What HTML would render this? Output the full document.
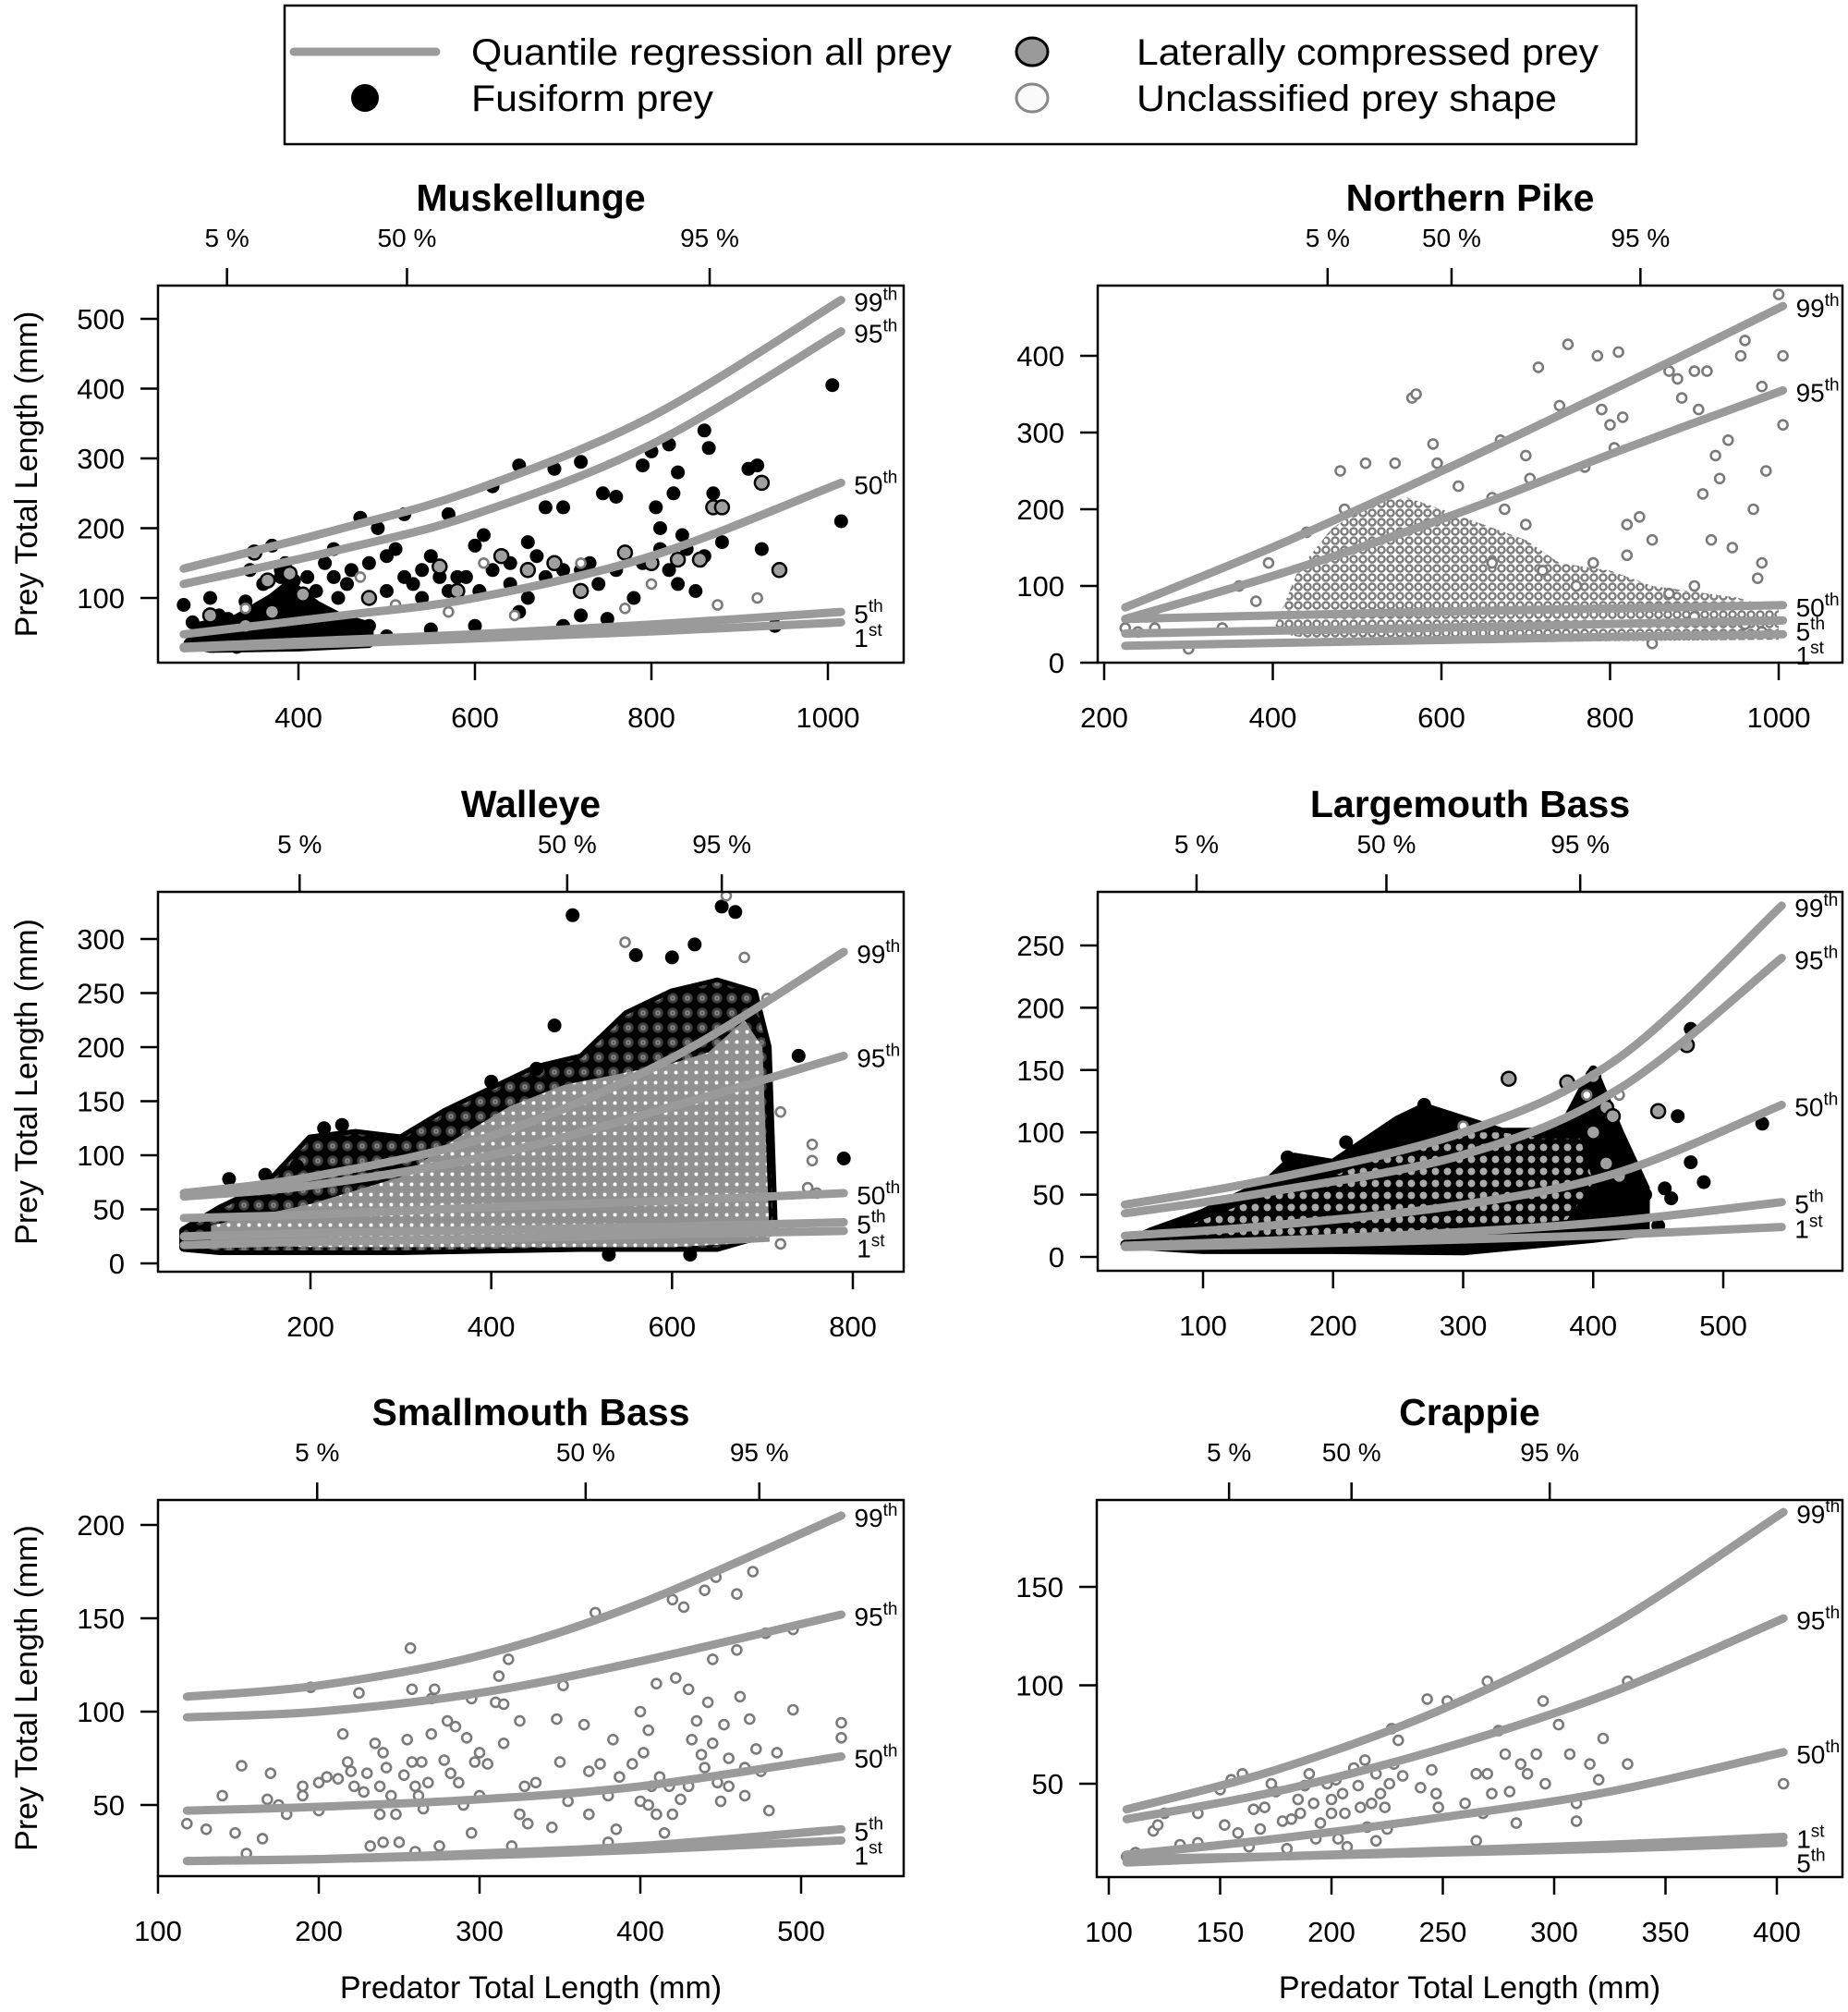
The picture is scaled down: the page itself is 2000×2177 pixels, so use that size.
<!DOCTYPE html>
<html><head><meta charset="utf-8"><style>
html,body{margin:0;padding:0;background:#fff}
svg{display:block}
text{font-family:"Liberation Sans",Arial,sans-serif;fill:#000}
</style></head><body>
<svg id="chart" xmlns="http://www.w3.org/2000/svg" width="2000" height="2177" viewBox="0 0 2000 2177">
<defs>
<pattern id="ringsDense" width="11" height="11" patternUnits="userSpaceOnUse"><rect width="11" height="11" fill="#909090"/><circle cx="5.5" cy="5.5" r="2" fill="#fff"/></pattern>
<pattern id="ringsSparse" width="10" height="10" patternUnits="userSpaceOnUse"><rect width="10" height="10" fill="#fff"/><circle cx="5" cy="5" r="3.6" fill="#fff" stroke="#7a7a7a" stroke-width="2.4"/></pattern>
<pattern id="grayDots" width="13" height="13" patternUnits="userSpaceOnUse"><rect width="13" height="13" fill="#000"/><circle cx="6.5" cy="6.5" r="5" fill="#aaa" stroke="#000" stroke-width="2"/></pattern>
<pattern id="blackRings" width="16" height="16" patternUnits="userSpaceOnUse"><rect width="16" height="16" fill="#000"/><circle cx="8" cy="8" r="4.5" fill="#fff" stroke="#888" stroke-width="2.4"/></pattern>
</defs>
<g>
<rect x="308" y="6" width="1463" height="150" fill="#fff" stroke="#000" stroke-width="2.5"/>
<line x1="318" y1="56" x2="472" y2="56" stroke="#9a9a9a" stroke-width="9" stroke-linecap="round"/>
<text x="510" y="70" font-size="40" textLength="520" lengthAdjust="spacingAndGlyphs">Quantile regression all prey</text>
<circle cx="395" cy="106" r="15" fill="#000"/>
<text x="510" y="120" font-size="40" textLength="262" lengthAdjust="spacingAndGlyphs">Fusiform prey</text>
<ellipse cx="1117" cy="56" rx="17" ry="15" fill="#9a9a9a" stroke="#000" stroke-width="3"/>
<text x="1230" y="70" font-size="40" textLength="500" lengthAdjust="spacingAndGlyphs">Laterally compressed prey</text>
<ellipse cx="1117" cy="106" rx="17" ry="15" fill="#fafafa" stroke="#888" stroke-width="3"/>
<text x="1230" y="120" font-size="40" textLength="455" lengthAdjust="spacingAndGlyphs">Unclassified prey shape</text>
</g>
</svg>
<script>
// ---------- DATA ----------
const quantileNames = ["99","95","50","5","1"];
const quantileSuffix = ["th","th","th","th","st"];

// Muskellunge
const muskCurveX = [270,450,600,800,1015];
const muskQ99 = [142,200,255,360,527];
const muskQ95 = [120,170,220,320,482];
const muskQ50 = [48,75,100,160,265];
const muskQ5 = [30,40,48,62,80];
const muskQ1 = [28,35,42,52,65];
const muskXTicks = [400,600,800,1000];
const muskYTicks = [100,200,300,400,500];
const muskPct = [319,523,866];
const muskCloud = [[275,35],[290,60],[330,70],[370,100],[390,120],[420,90],[450,70],[480,60],[480,35],[400,30],[300,28]];
const muskFusiform = [[270,90],[280,65],[290,50],[300,100],[310,75],[320,45],[330,60],[340,95],[345,140],[350,55],[360,120],[365,80],[370,175],[375,100],[380,130],[385,150],[390,90],[395,110],[400,70],[405,60],[410,130],[420,80],[430,150],[440,170],[445,100],[460,140],[470,215],[480,150],[490,200],[500,160],[510,170],[520,220],[530,120],[540,100],[550,160],[560,130],[570,220],[580,130],[600,175],[605,110],[610,190],[620,260],[640,150],[650,290],[660,180],[670,160],[680,230],[690,285],[700,230],[720,295],[730,150],[745,250],[760,245],[780,100],[790,290],[800,310],[805,230],[810,200],[820,320],[825,250],[830,280],[835,190],[840,170],[860,340],[865,315],[870,250],[880,180],[910,285],[920,290],[925,170],[940,60],[1005,405],[1015,210],[700,60],[750,70],[600,60],[500,45],[450,40],[420,35],[380,40],[340,35],[300,40],[320,70],[360,60],[400,50],[430,55],[480,60],[550,55],[650,80],[720,75],[760,55],[300,55],[290,35],[330,30],[370,45],[410,45],[380,140],[395,125],[420,110],[440,130],[455,120],[500,110],[520,130],[540,140],[570,110],[590,130],[620,140],[640,120],[660,100],[680,130],[700,140],[720,140],[740,120],[760,140],[790,150],[810,170],[820,140],[830,120],[850,110],[860,160]];
const muskLateral = [[350,165],[365,125],[390,135],[405,105],[480,100],[560,145],[580,110],[630,160],[660,140],[690,150],[720,110],[770,165],[800,150],[830,155],[855,155],[870,230],[880,230],[925,265],[945,140],[370,80],[300,75],[340,60]];
const muskUnclass = [[340,85],[470,130],[510,90],[570,80],[610,150],[645,75],[720,150],[770,85],[800,120],[875,90],[920,100]];

// Northern Pike
const pikeCurveX = [225,420,620,820,1005];
const pikeQ99 = [72,160,260,365,465];
const pikeQ95 = [57,120,195,280,355];
const pikeQ50 = [57,62,67,71,75];
const pikeQ5 = [38,42,46,51,55];
const pikeQ1 = [22,26,30,34,37];
const pikeXTicks = [200,400,600,800,1000];
const pikeYTicks = [0,100,200,300,400];
const pikePct = [465,612,836];
const pikeCloud = [[400,40],[430,120],[470,175],[520,210],[560,215],[600,200],[650,180],[700,160],[740,130],[800,120],[850,100],[950,85],[1000,70],[1000,30],[800,28],[600,25],[450,30]];
const pikeUnclass = [[225,45],[240,40],[260,45],[300,18],[340,45],[360,100],[380,80],[395,130],[440,170],[480,250],[485,200],[510,260],[545,260],[565,345],[570,350],[590,285],[595,260],[620,230],[660,215],[670,290],[675,200],[700,270],[705,240],[715,385],[740,335],[750,415],[770,255],[785,400],[790,330],[800,310],[805,280],[810,405],[815,320],[820,180],[835,190],[850,160],[870,380],[880,370],[885,345],[900,380],[905,330],[910,220],[915,380],[920,160],[925,270],[930,240],[940,290],[945,150],[955,400],[960,420],[970,200],[975,110],[980,360],[985,250],[1000,480],[1005,400],[1005,310],[980,130],[870,90],[900,100],[660,130],[700,180],[720,120],[760,100],[780,130],[820,140],[900,60],[960,50],[980,40],[850,25]];

// Walleye
const walCurveX = [60,200,400,600,790];
const walQ99 = [65,80,118,190,288];
const walQ95 = [62,72,100,145,192];
const walQ50 = [42,45,52,58,65];
const walQ5 = [25,28,31,34,38];
const walQ1 = [17,20,23,27,30];
const walXTicks = [200,400,600,800];
const walYTicks = [0,50,100,150,200,250,300];
const walPct = [188,484,655];
const walBlackCloud = [[60,30],[100,50],[150,70],[200,115],[250,120],[300,115],[350,140],[400,160],[450,180],[500,190],[550,230],[600,250],[650,260],[690,250],[705,200],[712,30],[650,15],[500,15],[300,12],[100,12],[60,15]];
const walGrayCloud = [[90,35],[200,55],[300,80],[360,115],[420,145],[480,165],[540,175],[600,185],[640,195],[680,225],[700,200],[708,20],[600,15],[400,15],[200,15],[90,18]];
const walFusiform = [[490,322],[655,330],[670,325],[625,295],[560,285],[600,283],[740,192],[790,97],[530,8],[620,8],[470,220],[450,180],[400,168],[215,125],[235,128],[185,90],[150,82],[110,78]];
const walUnclass = [[548,297],[680,283],[705,245],[720,140],[755,110],[755,95],[760,65],[750,70],[720,18],[660,340]];

// Largemouth Bass
const lmbCurveX = [40,150,300,420,545];
const lmbQ99 = [42,62,100,160,282];
const lmbQ95 = [35,52,82,135,240];
const lmbQ50 = [17,25,42,68,122];
const lmbQ5 = [9,13,20,29,44];
const lmbQ1 = [8,10,14,18,24];
const lmbXTicks = [100,200,300,400,500];
const lmbYTicks = [0,50,100,150,200,250];
const lmbPct = [95,241,390];
const lmbBlackCloud = [[40,10],[60,20],[100,35],[150,60],[170,80],[200,75],[250,110],[270,120],[300,110],[330,100],[360,100],[380,110],[400,150],[420,100],[440,55],[440,20],[400,15],[300,5],[200,6],[100,6],[40,10]];
const lmbGrayCloud = [[60,15],[100,30],[150,50],[200,65],[250,85],[300,100],[330,100],[360,95],[390,95],[400,60],[380,30],[300,20],[200,12],[100,10]];
const lmbFusiform = [[210,92],[165,80],[270,122],[455,55],[460,47],[465,113],[475,76],[485,60],[530,107],[475,183],[450,25],[440,50]];
const lmbLateral = [[335,143],[380,140],[400,145],[410,120],[415,113],[450,117],[472,170],[400,100],[410,75],[420,65]];
const lmbUnclass = [[395,130],[420,130],[300,105]];

// Smallmouth Bass
const smbCurveX = [118,200,300,400,525];
const smbQ99 = [108,114,130,158,205];
const smbQ95 = [97,100,110,127,152];
const smbQ50 = [47,49,53,60,76];
const smbQ5 = [20,21,24,28,37];
const smbQ1 = [20,21,23,26,31];
const smbXTicks = [100,200,300,400,500];
const smbYTicks = [50,100,150,200];
const smbPct = [199,366,474];
const smbUnclass = [[118,40],[130,37],[140,55],[148,35],[152,71],[155,24],[165,32],[168,53],[170,67],[175,50],[180,45],[190,60],[190,55],[195,113],[200,47],[200,62],[205,65],[212,64],[215,88],[218,73],[220,68],[222,60],[225,110],[228,57],[230,67],[232,28],[235,83],[238,60],[238,45],[240,78],[242,70],[245,55],[248,45],[250,30],[253,66],[255,85],[257,134],[258,112],[258,73],[260,60],[262,55],[264,73],[265,48],[268,62],[270,107],[270,88],[272,112],[275,28],[278,74],[280,95],[282,67],[285,92],[287,62],[290,50],[292,86],[295,35],[295,107],[297,73],[300,78],[300,55],[305,72],[310,105],[312,119],[315,104],[315,83],[318,128],[325,95],[325,45],[328,60],[330,40],[335,62],[345,38],[348,96],[350,73],[352,114],[355,52],[365,93],[368,68],[368,45],[372,153],[375,72],[380,55],[383,85],[385,37],[387,65],[395,72],[400,52],[400,100],[402,78],[405,90],[407,60],[410,45],[410,115],[412,65],[415,35],[418,60],[420,160],[422,118],[425,53],[427,156],[430,112],[432,85],[435,95],[438,77],[440,165],[442,105],[445,128],[445,83],[447,172],[448,62],[450,52],[452,93],[455,75],[460,163],[460,133],[462,108],[465,55],[468,96],[470,175],[472,80],[475,68],[478,142],[480,47],[485,78],[495,144],[495,101],[525,94],[525,86],[440,70],[430,60],[455,60],[465,70],[420,45],[405,50],[380,30],[320,28],[260,25],[240,30]];

// Crappie
const crpCurveX = [108,175,250,325,403];
const crpQ99 = [37,57,88,130,188];
const crpQ95 = [32,46,68,96,134];
const crpQ50 = [14,22,33,46,66];
const crpQ5 = [12,13,15,17,20];
const crpQ1 = [10,13,16,19,23];
const crpXTicks = [100,150,200,250,300,350,400];
const crpYTicks = [50,100,150];
const crpPct = [154,209,298];
const crpUnclass = [[108,13],[112,15],[120,26],[122,29],[125,35],[132,19],[140,35],[140,20],[150,47],[152,29],[155,52],[158,25],[160,55],[163,18],[165,37],[168,27],[170,38],[173,50],[175,46],[178,31],[180,17],[182,32],[185,42],[186,35],[188,49],[190,55],[192,40],[193,22],[195,30],[198,50],[200,42],[200,35],[202,52],[203,22],[205,45],[206,35],[207,18],[210,58],[212,49],[213,38],[215,62],[216,28],[218,40],[220,55],[220,21],[222,45],[224,38],[225,27],[226,50],[227,78],[228,60],[230,72],[232,54],[240,48],[243,93],[245,57],[247,45],[248,38],[252,92],[260,40],[265,55],[265,21],[268,35],[270,102],[270,55],[272,45],[275,77],[278,65],[280,46],[283,30],[285,60],[288,55],[292,65],[295,92],[296,50],[302,80],[307,65],[310,40],[310,31],[316,60],[320,52],[322,73],[333,60],[333,102],[403,50]];

// ---------- LAYOUT (not data) ----------
const SVGNS = "http://www.w3.org/2000/svg";
const svg = document.getElementById("chart");
function mk(tag, attrs, parent){const e=document.createElementNS(SVGNS,tag);for(const k in attrs)e.setAttribute(k,attrs[k]);(parent||svg).appendChild(e);return e;}

const panels = [
 {key:"muskellunge",title:"Muskellunge",L:171,R:978,T:309,B:717,xa:[400,323,1000,896],ya:[100,647,500,345],
  cx:muskCurveX,q:[muskQ99,muskQ95,muskQ50,muskQ5,muskQ1],xt:muskXTicks,yt:muskYTicks,pct:muskPct,
  clouds:[[muskCloud,"#000"]],fus:muskFusiform,lat:muskLateral,unc:muskUnclass,ylab:true,xlab:false},
 {key:"northern-pike",title:"Northern Pike",L:1188,R:1994,T:309,B:717,xa:[200,1195,1000,1925],ya:[0,717,400,385],
  cx:pikeCurveX,q:[pikeQ99,pikeQ95,pikeQ50,pikeQ5,pikeQ1],xt:pikeXTicks,yt:pikeYTicks,pct:pikePct,
  clouds:[[pikeCloud,"url(#ringsSparse)"]],fus:[],lat:[],unc:pikeUnclass,ylab:false,xlab:false},
 {key:"walleye",title:"Walleye",L:171,R:978,T:965,B:1376,xa:[200,336,800,923],ya:[0,1367,300,1016],
  cx:walCurveX,q:[walQ99,walQ95,walQ50,walQ5,walQ1],xt:walXTicks,yt:walYTicks,pct:walPct,
  clouds:[[walBlackCloud,"#000"],[walBlackCloud,"url(#blackRings)",0.45],[walGrayCloud,"url(#ringsDense)"]],fus:walFusiform,lat:[],unc:walUnclass,ylab:true,xlab:false},
 {key:"largemouth-bass",title:"Largemouth Bass",L:1188,R:1994,T:965,B:1375,xa:[100,1302,500,1865],ya:[0,1360,250,1023],
  cx:lmbCurveX,q:[lmbQ99,lmbQ95,lmbQ50,lmbQ5,lmbQ1],xt:lmbXTicks,yt:lmbYTicks,pct:lmbPct,
  clouds:[[lmbBlackCloud,"#000"],[lmbGrayCloud,"url(#grayDots)"]],fus:lmbFusiform,lat:lmbLateral,unc:lmbUnclass,ylab:false,xlab:false},
 {key:"smallmouth-bass",title:"Smallmouth Bass",L:171,R:978,T:1623,B:2030,xa:[100,171,500,867],ya:[50,1953,200,1650],
  cx:smbCurveX,q:[smbQ99,smbQ95,smbQ50,smbQ5,smbQ1],xt:smbXTicks,yt:smbYTicks,pct:smbPct,
  clouds:[],fus:[],lat:[],unc:smbUnclass,ylab:true,xlab:true},
 {key:"crappie",title:"Crappie",L:1187,R:1994,T:1623,B:2031,xa:[100,1200,400,1923],ya:[50,1930,150,1717],
  cx:crpCurveX,q:[crpQ99,crpQ95,crpQ50,crpQ5,crpQ1],xt:crpXTicks,yt:crpYTicks,pct:crpPct,
  clouds:[],fus:[],lat:[],unc:crpUnclass,ylab:false,xlab:true}
];

function smoothPath(pts){
  let d="M"+pts[0][0].toFixed(1)+","+pts[0][1].toFixed(1);
  for(let i=0;i<pts.length-1;i++){
    const p0=pts[Math.max(i-1,0)],p1=pts[i],p2=pts[i+1],p3=pts[Math.min(i+2,pts.length-1)];
    const c1=[p1[0]+(p2[0]-p0[0])/6,p1[1]+(p2[1]-p0[1])/6];
    const c2=[p2[0]-(p3[0]-p1[0])/6,p2[1]-(p3[1]-p1[1])/6];
    d+=" C"+c1[0].toFixed(1)+","+c1[1].toFixed(1)+" "+c2[0].toFixed(1)+","+c2[1].toFixed(1)+" "+p2[0].toFixed(1)+","+p2[1].toFixed(1);
  }
  return d;
}

panels.forEach(p=>{
  const sx=v=>p.xa[1]+(v-p.xa[0])*(p.xa[3]-p.xa[1])/(p.xa[2]-p.xa[0]);
  const sy=v=>p.ya[1]+(v-p.ya[0])*(p.ya[3]-p.ya[1])/(p.ya[2]-p.ya[0]);
  const g=mk("g",{});
  
  
  const cid="clip-"+p.key;
  const cp=mk("clipPath",{id:cid},g);
  mk("rect",{x:p.L,y:p.T,width:p.R-p.L,height:p.B-p.T},cp);
  const plot=mk("g",{"clip-path":"url(#"+cid+")"},g);
  
  

  p.clouds.forEach((c,i)=>{
    const poly=mk("polygon",{points:c[0].map(v=>sx(v[0]).toFixed(1)+","+sy(v[1]).toFixed(1)).join(" "),fill:c[1],stroke:c[1]==="#000"?"#000":"none","stroke-width":"10","stroke-linejoin":"round","opacity":c[2]||1},plot);
    
    
  });
  p.fus.forEach(v=>{
    const c=mk("circle",{cx:sx(v[0]).toFixed(1),cy:sy(v[1]).toFixed(1),r:7.5,fill:"#000"},plot);
    
    
  });
  p.lat.forEach(v=>{
    const c=mk("circle",{cx:sx(v[0]).toFixed(1),cy:sy(v[1]).toFixed(1),r:7.5,fill:"#a0a0a0",stroke:"#000","stroke-width":2.5},plot);
    
    
  });
  p.unc.forEach(v=>{
    const c=mk("circle",{cx:sx(v[0]).toFixed(1),cy:sy(v[1]).toFixed(1),r:5,fill:"#fff",stroke:"#7a7a7a","stroke-width":2.6},plot);
    
    
  });
  const ends=[];
  p.q.forEach((arr,qi)=>{
    const pts=p.cx.map((x,i)=>[sx(x),sy(arr[i])]);
    const path=mk("path",{d:smoothPath(pts),fill:"none",stroke:"#9a9a9a","stroke-width":9,"stroke-linecap":"round"},g);
    
    
    ends.push({qi:qi,x:pts[pts.length-1][0],y:pts[pts.length-1][1]});
  });
  const sorted=ends.slice().sort((a,b)=>a.y-b.y);
  let last=-1e9;
  sorted.forEach(e=>{
    let by=e.y+12; if(by<last+26) by=last+26; last=by;
    const t=mk("text",{x:(e.x+14).toFixed(1),y:by.toFixed(1),"font-size":"28"},g);
    t.textContent=quantileNames[e.qi];
    const ts=mk("tspan",{dy:"-12","font-size":"19"},t);
    ts.textContent=quantileSuffix[e.qi];
    
    
  });
  const fr=mk("rect",{x:p.L,y:p.T,width:p.R-p.L,height:p.B-p.T,fill:"none",stroke:"#000","stroke-width":2.5},g);
  
  
  p.xt.forEach(v=>{
    const x=sx(v);
    const l=mk("line",{x1:x,y1:p.B,x2:x,y2:p.B+19,stroke:"#000","stroke-width":2.5},g);
    
    
    const t=mk("text",{x:x,y:p.B+70,"font-size":"31","text-anchor":"middle"},g);
    t.textContent=v;
    
    
  });
  p.yt.forEach(v=>{
    const y=sy(v);
    const l=mk("line",{x1:p.L,y1:y,x2:p.L-19,y2:y,stroke:"#000","stroke-width":2.5},g);
    
    
    const t=mk("text",{x:p.L-36,y:y+11,"font-size":"31","text-anchor":"end"},g);
    t.textContent=v;
    
    
  });
  ["5 %","50 %","95 %"].forEach((lab,i)=>{
    const x=sx(p.pct[i]);
    const l=mk("line",{x1:x,y1:p.T,x2:x,y2:p.T-19,stroke:"#000","stroke-width":2.5},g);
    
    
    const t=mk("text",{x:x,y:p.T-42,"font-size":"28","text-anchor":"middle"},g);
    t.textContent=lab;
    
    
  });
  const tt=mk("text",{x:(p.L+p.R)/2,y:p.T-81,"font-size":"41","font-weight":"bold","text-anchor":"middle"},g);
  tt.textContent=p.title;
  
  
  if(p.ylab){
    const cy=(p.T+p.B)/2;
    const yt=mk("text",{x:40,y:cy,"font-size":"34","text-anchor":"middle",transform:"rotate(-90 40 "+cy+")"},g);
    yt.textContent="Prey Total Length (mm)";
    
    
  }
  if(p.xlab){
    const xt=mk("text",{x:(p.L+p.R)/2,y:2162,"font-size":"34","text-anchor":"middle"},g);
    xt.textContent="Predator Total Length (mm)";
    
    
  }
});
</script>
</body></html>
